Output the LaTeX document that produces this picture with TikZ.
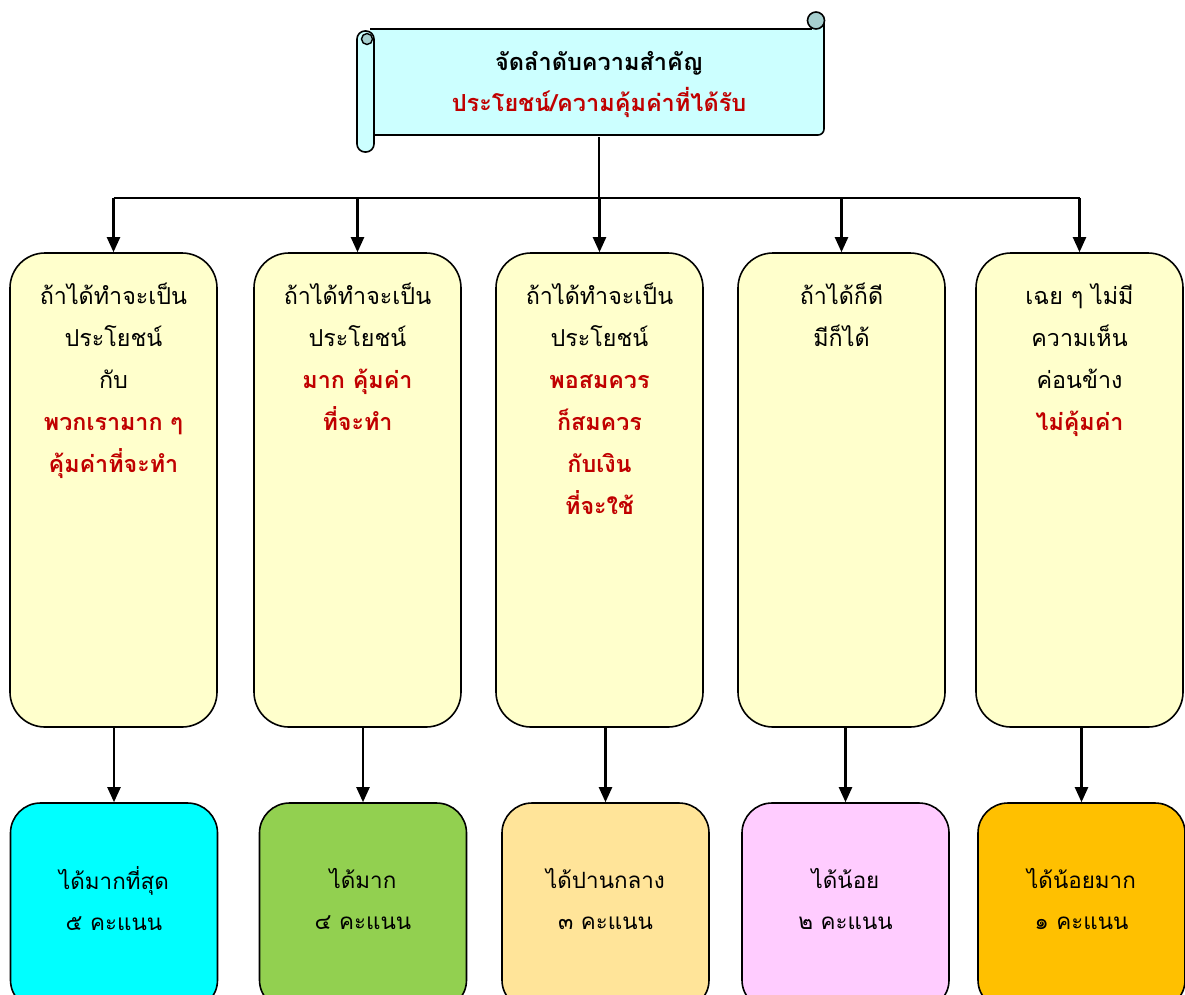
\documentclass[tikz,border=0pt]{standalone}
\usepackage{fontspec}
\setmainfont[Script=Thai]{Loma}
\usetikzlibrary{arrows.meta}
\definecolor{scrollbg}{HTML}{CCFFFF}
\definecolor{rolldark}{HTML}{A6CFCF}
\definecolor{boxyel}{HTML}{FFFFCC}
\definecolor{redtxt}{HTML}{C00000}
\definecolor{c1}{HTML}{00FFFF}
\definecolor{c2}{HTML}{92D050}
\definecolor{c3}{HTML}{FFE499}
\definecolor{c4}{HTML}{FFCCFF}
\definecolor{c5}{HTML}{FFC000}
\tikzset{
  topbox/.style={draw, line width=1.6pt, fill=boxyel, rounded corners=35pt, minimum width=207pt, minimum height=474pt, inner sep=0pt},
  botbox/.style={draw, line width=1.6pt, rounded corners=30pt, minimum width=207pt, minimum height=207pt, inner sep=0pt},
  toptext/.style={align=center, anchor=north, font={\fontsize{23.3pt}{42pt}\selectfont}, inner sep=0pt},
  bottext/.style={align=center, font={\fontsize{22.4pt}{41pt}\selectfont}, inner sep=0pt},
  arr/.style={line width=2.2pt, -{Triangle[length=15pt,width=13pt]}},
  conn/.style={line width=2.2pt}
}
\newcommand{\rt}[1]{{\color{redtxt}\bfseries #1}}
\begin{document}
\begin{tikzpicture}[x=1pt,y=-1pt]
\useasboundingbox (0,0) rectangle (1185,994);
\clip (0,0) rectangle (1185,994);
% scroll
\path[fill=scrollbg] (370,29) -- (816,29) -- (816,20) -- (824,20) -- (824,129) arc[start angle=0,end angle=90,radius=6] -- (370,135) -- cycle;
\draw[line width=1.6pt] (370,29) -- (812,29);
\draw[line width=1.6pt] (824,20) -- (824,129) arc[start angle=0,end angle=90,radius=6] -- (374,135);
\draw[line width=1.6pt, fill=rolldark] (816,20.5) circle[radius=8.5];
\draw[line width=1.6pt, fill=scrollbg, rounded corners=8pt] (357,31) rectangle (374,152);
\draw[line width=1.4pt, fill=rolldark] (367,39) circle[radius=5.5];
\node[minimum width=450pt, minimum height=106pt, inner sep=0pt, align=center, font={\fontsize{23.5pt}{41pt}\selectfont}] (title) at (599,84)
  {\bfseries จัดลำดับความสำคัญ\\ \rt{ประโยชน์/ความคุ้มค่าที่ได้รับ}};
% top boxes
\node[topbox] (t1) at (113.5,490) {};
\node[topbox] (t2) at (357.5,490) {};
\node[topbox] (t3) at (599.5,490) {};
\node[topbox] (t4) at (841.5,490) {};
\node[topbox] (t5) at (1079.5,490) {};
\node[toptext] (tx1) at (113.5,283) {ถ้าได้ทำจะเป็น\\ประโยชน์\\กับ\\ \rt{พวกเรามาก ๆ}\\ \rt{คุ้มค่าที่จะทำ}};
\node[toptext] (tx2) at (357.5,283) {ถ้าได้ทำจะเป็น\\ประโยชน์\\ \rt{มาก คุ้มค่า}\\ \rt{ที่จะทำ}};
\node[toptext] (tx3) at (599.5,283) {ถ้าได้ทำจะเป็น\\ประโยชน์\\ \rt{พอสมควร}\\ \rt{ก็สมควร}\\ \rt{กับเงิน}\\ \rt{ที่จะใช้}};
\node[toptext] (tx4) at (841.5,283) {ถ้าได้ก็ดี\\มีก็ได้};
\node[toptext] (tx5) at (1079.5,283) {เฉย ๆ ไม่มี\\ความเห็น\\ค่อนข้าง\\ \rt{ไม่คุ้มค่า}};
% bottom boxes
\node[botbox, fill=c1] (b1) at (114,906.5) {};
\node[botbox, fill=c2] (b2) at (363,906.5) {};
\node[botbox, fill=c3] (b3) at (605.5,906.5) {};
\node[botbox, fill=c4] (b4) at (845.5,906.5) {};
\node[botbox, fill=c5] (b5) at (1081.5,906.5) {};
\node[bottext] (bx1) at (114,899) {ได้มากที่สุด\\๕ คะแนน};
\node[bottext] (bx2) at (363,899) {ได้มาก\\๔ คะแนน};
\node[bottext] (bx3) at (605.5,899) {ได้ปานกลาง\\๓ คะแนน};
\node[bottext] (bx4) at (845.5,899) {ได้น้อย\\๒ คะแนน};
\node[bottext] (bx5) at (1081.5,899) {ได้น้อยมาก\\๑ คะแนน};
% connectors
\coordinate (hub) at (599,198);
\draw[conn] (title.south) -- (hub);
\draw[conn] (t1.north |- hub) -- (t5.north |- hub);
\foreach \i in {1,...,5} {
  \draw[arr] (t\i.north |- hub) -- (t\i.north);
  \draw[arr] (b\i.north |- t\i.south) -- (b\i.north);
}
\end{tikzpicture}
\end{document}
